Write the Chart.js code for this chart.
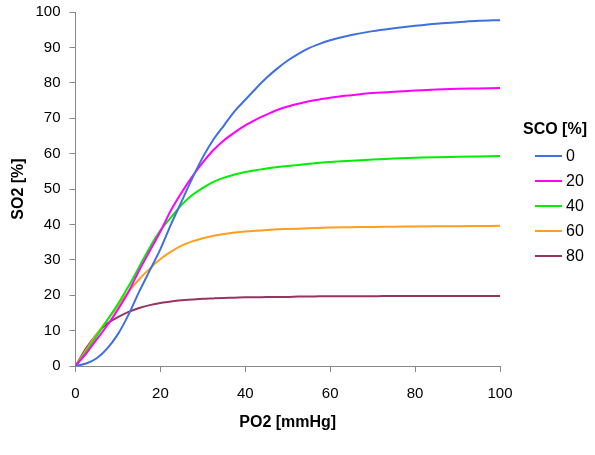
<!DOCTYPE html>
<html>
<head>
<meta charset="utf-8">
<script src="https://cdn.jsdelivr.net/npm/chart.js@4"></script>
<style>
  html, body { margin: 0; padding: 0; background: #fff; }
  #wrap { width: 595px; height: 455px; }
</style>
</head>
<body>
<div id="wrap"><canvas id="myChart" width="595" height="455"></canvas></div>
<script type="text/javascript">
// PO2 [mmHg] sample points
var po2 = [0, 2.5, 5, 7.5, 10, 12.5, 15, 17.5, 20, 22.5, 25, 27.5, 30, 32.5, 35, 37.5, 40,
           42.5, 45, 47.5, 50, 52.5, 55, 57.5, 60, 65, 70, 75, 80, 85, 90, 95, 100];

// SO2 [%] for each SCO level
var sco0  = [0, 0.7, 2.2, 5, 9, 14.5, 21, 27, 33, 40, 46.5, 53, 59, 64, 68, 72, 75.2,
             78.4, 81.4, 84, 86.3, 88.2, 89.8, 91, 92, 93.5, 94.6, 95.4, 96.1, 96.7, 97.1, 97.5, 97.7];
var sco20 = [0, 3.5, 7.5, 11.5, 16, 21, 27, 32.5, 38, 44, 49, 53.5, 57.5, 61, 63.8, 66, 68,
             69.6, 71, 72.3, 73.3, 74.1, 74.8, 75.3, 75.8, 76.5, 77.1, 77.5, 77.8, 78.1, 78.3, 78.4, 78.5];
var sco40 = [0, 4, 8.5, 13, 17.5, 22.5, 28, 33.5, 38.3, 42, 45.5, 48.3, 50.3, 52, 53.2, 54.1, 54.8,
             55.3, 55.8, 56.2, 56.5, 56.8, 57.1, 57.4, 57.6, 58, 58.3, 58.6, 58.8, 59, 59.1, 59.2, 59.3];
var sco60 = [0, 4.5, 9, 13, 17, 21, 24.5, 27.5, 30.2, 32.3, 34, 35.2, 36.1, 36.8, 37.3, 37.7, 38,
             38.2, 38.4, 38.6, 38.7, 38.8, 38.9, 39, 39.1, 39.2, 39.3, 39.35, 39.4, 39.45, 39.5, 39.55, 39.6];
var sco80 = [0, 5, 9, 12, 13.8, 15.3, 16.4, 17.2, 17.8, 18.2, 18.6, 18.8, 19, 19.1, 19.2, 19.3, 19.4,
             19.4, 19.5, 19.5, 19.5, 19.6, 19.6, 19.7, 19.7, 19.7, 19.7, 19.8, 19.8, 19.8, 19.8, 19.8, 19.8];

var seriesLabels = ['0', '20', '40', '60', '80'];
var seriesValues = [sco0, sco20, sco40, sco60, sco80];
var seriesColours = ['#3f6fe0', '#ff00ff', '#00ee00', '#ff9e1f', '#993366'];

var legendTitle = 'SCO [%]';
var xTitle = 'PO2 [mmHg]';
var yTitle = 'SO2 [%]';

var FONT = "'Liberation Sans', Arial, sans-serif";

var datasets = seriesValues.map(function (vals, i) {
    return {
        label: seriesLabels[i],
        data: vals.map(function (v, j) { return {x: po2[j], y: v}; }),
        borderColor: seriesColours[i],
        backgroundColor: seriesColours[i],
        borderWidth: 2,
        pointRadius: 0,
        fill: false,
        cubicInterpolationMode: 'monotone'
    };
});

// legend drawn by hand so it sits where the original one does
var sideLegend = {
    id: 'sideLegend',
    afterDraw: function (chart) {
        var ctx = chart.ctx;
        ctx.save();
        ctx.fillStyle = '#000';
        ctx.textBaseline = 'middle';
        ctx.font = 'bold 16px ' + FONT;
        ctx.textAlign = 'center';
        ctx.fillText(legendTitle, 555, 130);
        ctx.font = '16px ' + FONT;
        ctx.textAlign = 'left';
        chart.data.datasets.forEach(function (ds, i) {
            var y = 156 + i * 25;
            ctx.strokeStyle = ds.borderColor;
            ctx.lineWidth = 2;
            ctx.beginPath();
            ctx.moveTo(535, y);
            ctx.lineTo(562, y);
            ctx.stroke();
            ctx.fillText(ds.label, 566, y + 1);
        });
        ctx.restore();
    }
};

var ctx = document.getElementById('myChart').getContext('2d');
var chart = new Chart(ctx, {
    type: 'line',
    data: { datasets: datasets },
    options: {
        responsive: false,
        animation: false,
        events: [],
        layout: { padding: { left: 0, right: 95, top: 12, bottom: 0 } },
        plugins: {
            legend: { display: false },
            tooltip: { enabled: false }
        },
        scales: {
            x: {
                type: 'linear',
                min: 0,
                max: 100,
                afterFit: function (scale) {
                    scale.height = 89;
                    scale.paddingLeft = 0;
                    scale.paddingRight = 0;
                },
                ticks: { stepSize: 20, color: '#000', padding: 13, font: { family: FONT, size: 15 } },
                grid: { drawOnChartArea: false, drawTicks: true, tickLength: 6, color: '#888' },
                border: { color: '#888', width: 1 },
                title: {
                    display: true, text: xTitle, color: '#000',
                    font: { family: FONT, size: 16, weight: 'bold' },
                    padding: { top: 4, bottom: 23 }
                }
            },
            y: {
                type: 'linear',
                min: 0,
                max: 100,
                afterFit: function (scale) {
                    scale.width = 75.5;
                    scale.paddingTop = 0;
                    scale.paddingBottom = 0;
                },
                ticks: { stepSize: 10, color: '#000', padding: 9, font: { family: FONT, size: 15 } },
                grid: { drawOnChartArea: false, drawTicks: true, tickLength: 6, color: '#888' },
                border: { color: '#888', width: 1 },
                title: {
                    display: true, text: yTitle, color: '#000',
                    font: { family: FONT, size: 16, weight: 'bold' },
                    padding: { top: 9, bottom: 4 }
                }
            }
        }
    },
    plugins: [sideLegend]
});
</script>
</body>
</html>
